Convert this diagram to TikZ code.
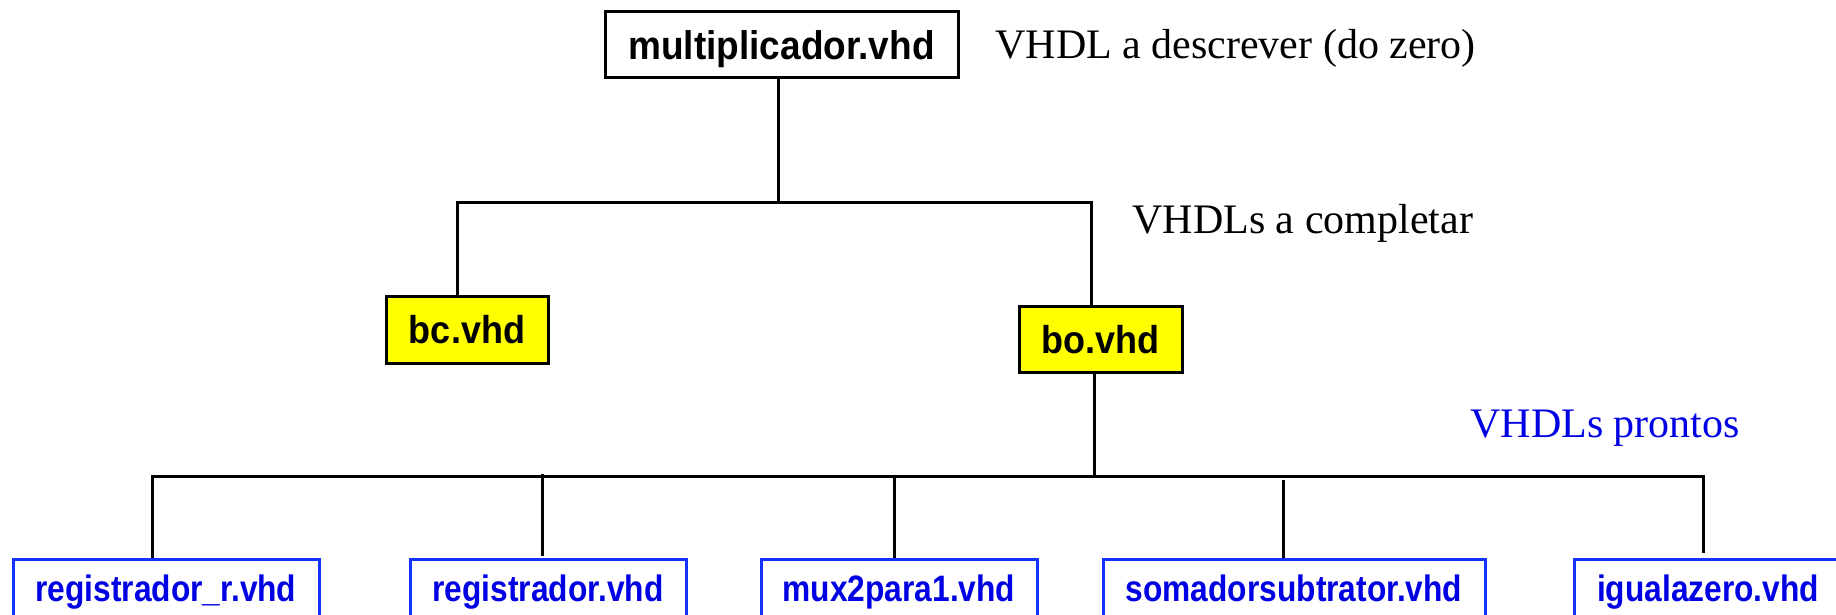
\documentclass[tikz,border=0pt]{standalone}
\usepackage{graphicx}
\usepackage{fontspec}
\setmainfont{Liberation Serif}
\setsansfont{Liberation Sans}
\definecolor{boxblue}{RGB}{20,50,255}
\definecolor{txtblue}{RGB}{0,0,228}
\definecolor{hiyellow}{RGB}{255,255,0}
\newcommand\uppertxt[1]{\scalebox{1}[1.08]{#1}}
\newcommand\leaftxt[1]{\scalebox{1}[1.16]{#1}}
\begin{document}
\begin{tikzpicture}[x=0.5pt,y=-0.5pt,
  wire/.style={line width=1.5pt, black},
  topbox/.style={draw=black, line width=1.5pt, fill=white, inner sep=0pt,
    font=\sffamily\bfseries\fontsize{18.5}{20}\selectfont, minimum height=33pt},
  yelbox/.style={draw=black, line width=1.5pt, fill=hiyellow, inner sep=0pt,
    font=\sffamily\bfseries\fontsize{18}{20}\selectfont, text depth=0pt},
  leafbox/.style={draw=boxblue, line width=1.5pt, fill=white, inner sep=0pt,
    text=txtblue, font=\sffamily\bfseries\fontsize{15.85}{18}\selectfont,
    minimum height=34pt, text height=8pt, text depth=0pt},
  note/.style={inner sep=0pt, anchor=base west, font=\fontsize{21}{24}\selectfont}]
\useasboundingbox (0,0) rectangle (1836,615);
\clip (0,0) rectangle (1836,615);

% nodes
\node[topbox, minimum width=176.5pt, text height=15pt, text depth=0pt] (top) at (781.5,45) {\uppertxt{multiplicador.vhd}};
\node[yelbox, minimum width=81pt, minimum height=33.5pt, text height=13.5pt] (bc) at (467,329.5) {\uppertxt{bc.vhd}};
\node[yelbox, minimum width=81.5pt, minimum height=33pt, text height=14pt] (bo) at (1100.5,339) {\uppertxt{bo.vhd}};

\node[leafbox, minimum width=153pt] (b1) at (166,593) {\leaftxt{registrador\_r.vhd}};
\node[leafbox, minimum width=138pt] (b2) at (548,593) {\leaftxt{registrador.vhd}};
\node[leafbox, minimum width=138pt] (b3) at (899,593) {\leaftxt{mux2para1.vhd}};
\node[leafbox, minimum width=191pt] (b4) at (1294,593) {\leaftxt{somadorsubtrator.vhd}};
\node[leafbox, minimum width=134pt] (b5) at (1708,593) {\leaftxt{igualazero.vhd}};

\node[note] (n1) at (995,59) {VHDL a descrever (do zero)};
\node[note] (n2) at (1132,233) {VHDLs a completar};
\node[note, text=txtblue] (n3) at (1470,437) {VHDLs prontos};

% upper tree
\coordinate (j1) at (778,202);
\coordinate (lb) at (457,202);
\coordinate (rb) at (1091,202);
\draw[wire] (top.south -| j1) -- (j1);
\draw[wire] (bc.north -| lb) -- (lb) -- (rb) -- (bo.north -| rb);

% lower tree
\coordinate (j2) at (1094,476);
\coordinate (bl) at (152,476);
\coordinate (br) at (1703,476);
\coordinate (e5) at (1703,553);
\coordinate (t2) at (542,474);
\coordinate (e2) at (542,556);
\coordinate (t3) at (894,476);
\coordinate (t4) at (1283,480);
\draw[wire] (bo.south -| j2) -- (j2);
\draw[wire] (b1.north -| bl) -- (bl) -- (br) -- (e5);
\draw[wire] (t2) -- (e2);
\draw[wire] (t3) -- (b3.north -| t3);
\draw[wire] (t4) -- (b4.north -| t4);
\end{tikzpicture}
\end{document}
